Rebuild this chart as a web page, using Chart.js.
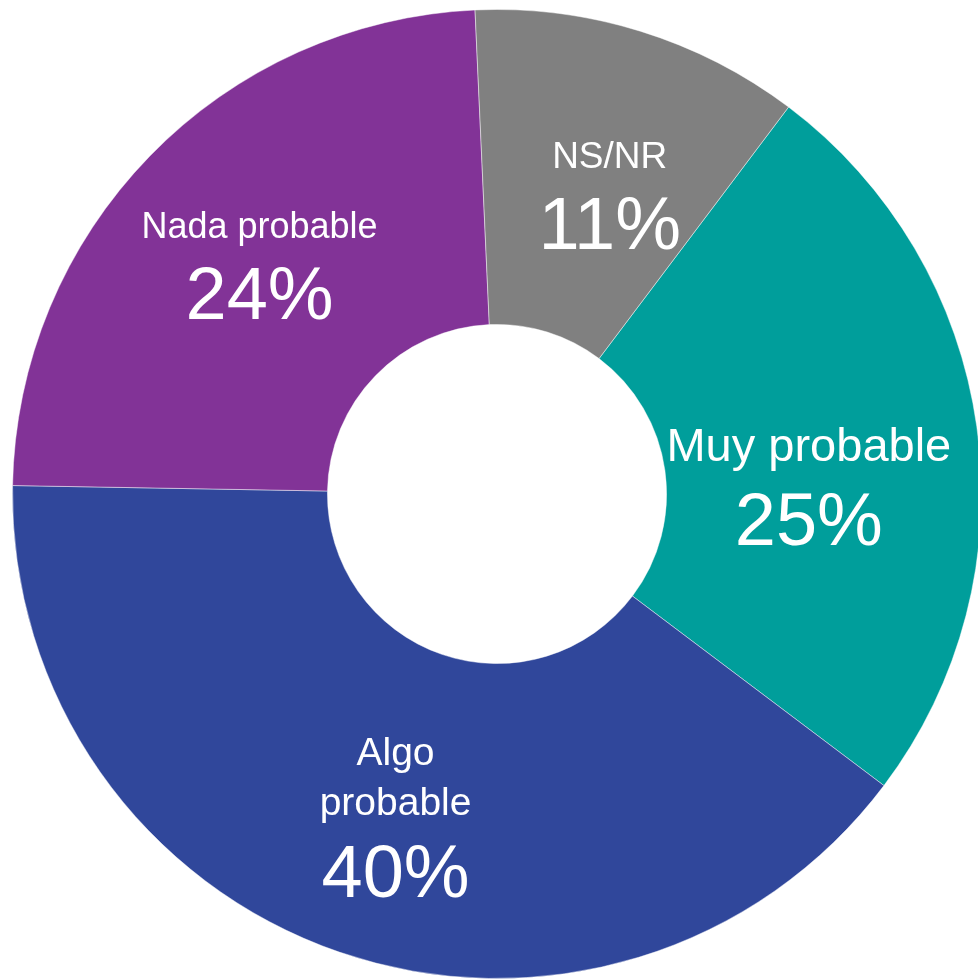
<!DOCTYPE html>
<html>
<head>
<meta charset="utf-8">
<title>Probabilidad</title>
<script src="https://cdn.jsdelivr.net/npm/chart.js@4.4.1/dist/chart.umd.min.js"></script>
<style>
  html, body { margin: 0; padding: 0; background: #fff; overflow: hidden; }
  #wrap { position: relative; width: 978px; height: 979px; overflow: hidden; }
  #grafico { position: absolute; left: 0; top: 0; }
</style>
</head>
<body>
<div id="wrap">
  <canvas id="grafico" width="994" height="979" style="width:994px;height:979px"></canvas>
</div>
<script>
// datos
var categorias = ['Muy probable', ['Algo', 'probable'], 'Nada probable', 'NS/NR'];
var porcentajes = [25, 40, 24, 11];
var colores = ['#009E9B', '#30479B', '#823397', '#808080'];

// etiquetas blancas dentro de cada sector
var etiquetasPlugin = {
    id: 'etiquetas',
    afterDatasetsDraw: function(chart, args, opts) {
        var ctx = chart.ctx;
        var meta = chart.getDatasetMeta(0);
        meta.data.forEach(function(arc, i) {
            var pos = arc.tooltipPosition();
            var nudge = opts.nudge[i] || [0, 0];
            var lineas = chart.data.labels[i];
            if (!Array.isArray(lineas)) lineas = [lineas];
            var f1 = opts.nameSize[i];
            var f2 = opts.pctSize;
            var lh = f1 * 1.28;
            // altura del bloque: tope de mayusculas hasta linea base del %
            var alto = 0.716 * f1 + lh * (lineas.length - 1) + (0.3 * f1 + 70);
            var x = pos.x + nudge[0];
            var y = pos.y + nudge[1] - alto / 2 + 0.716 * f1;
            ctx.save();
            ctx.fillStyle = '#ffffff';
            ctx.textAlign = 'center';
            ctx.textBaseline = 'alphabetic';
            ctx.font = f1 + 'px "Liberation Sans", Arial, sans-serif';
            lineas.forEach(function(t, k) {
                ctx.fillText(t, x, y + k * lh);
            });
            var yp = y + lh * (lineas.length - 1) + 0.3 * f1 + 70;
            ctx.font = f2 + 'px "Liberation Sans", Arial, sans-serif';
            ctx.fillText(chart.data.datasets[0].data[i] + '%', x, yp);
            ctx.restore();
        });
    }
};

var ctx = document.getElementById('grafico').getContext('2d');
var grafico = new Chart(ctx, {
    type: 'doughnut',
    data: {
        labels: categorias,
        datasets: [{
            data: porcentajes,
            backgroundColor: colores,
            borderColor: 'rgba(255,255,255,0.45)',
            borderWidth: 1
        }]
    },
    options: {
        responsive: false,
        animation: false,
        cutout: '35%',
        rotation: 37,
        layout: { padding: { left: 12, right: 12, top: 9, bottom: 0 } },
        plugins: {
            legend: { display: false },
            tooltip: { enabled: false },
            etiquetas: {
                nameSize: [47, 39, 36, 37],
                pctSize: 74,
                nudge: [[-12, 38], [5, 14], [-3, 0], [16, 14]]
            }
        }
    },
    plugins: [etiquetasPlugin]
});
</script>
</body>
</html>
